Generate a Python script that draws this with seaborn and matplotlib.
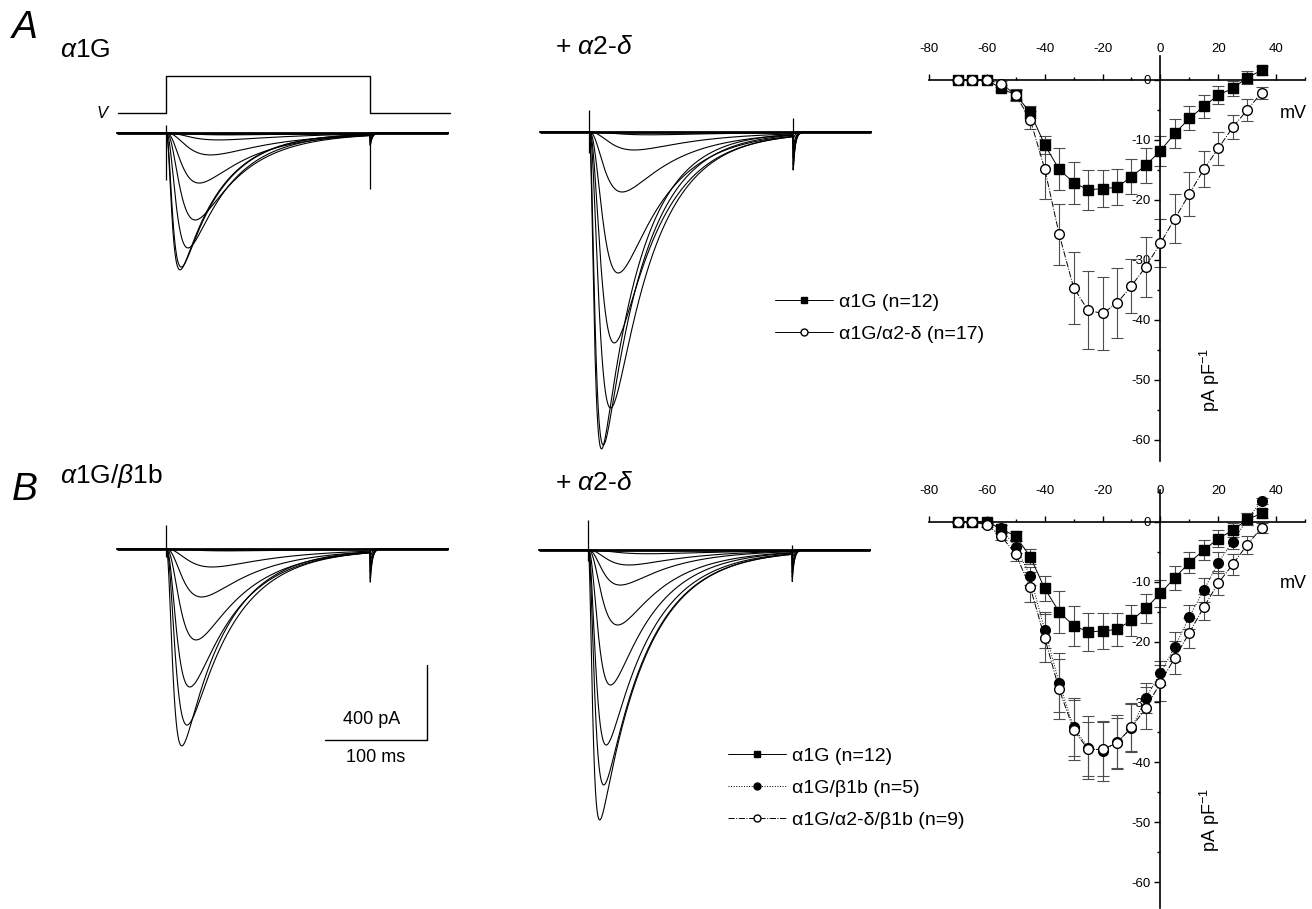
import numpy as np
import pandas as pd
import matplotlib.pyplot as plt
import seaborn as sns
from matplotlib.lines import Line2D
from matplotlib.ticker import MultipleLocator

sns.set_style('white')
plt.rcParams['font.family'] = ['Liberation Sans', 'DejaVu Sans']
plt.rcParams['mathtext.fontset'] = 'custom'
plt.rcParams['mathtext.rm'] = 'Liberation Sans'
plt.rcParams['mathtext.it'] = 'Liberation Sans:italic'
plt.rcParams['mathtext.bf'] = 'Liberation Sans:bold'
plt.rcParams['axes.unicode_minus'] = False
for key in ('text.color', 'axes.labelcolor', 'xtick.color', 'ytick.color'):
    plt.rcParams[key] = 'black'

# ---- I-V data (pA/pF) ----
iv_volt = [-70, -65, -60, -55, -50, -45, -40, -35, -30, -25, -20,
           -15, -10, -5, 0, 5, 10, 15, 20, 25, 30, 35]

iv_a_a1g = [0, 0, 0, -1.4, -2.5, -5.4, -10.8, -14.9, -17.1, -18.3, -18.1,
            -17.9, -16.1, -14.2, -11.8, -8.9, -6.4, -4.4, -2.5, -1.4, 0.4, 1.6]
iv_a_a1g_err = [0.2, 0.2, 0.2, 0.5, 0.8, 1.0, 1.5, 3.5, 3.5, 3.3, 3.1,
                3.0, 2.9, 2.9, 2.5, 2.4, 2.0, 1.9, 1.5, 1.2, 1.1, 0.8]
iv_a_a2d = [0, 0, 0, -0.6, -2.5, -6.6, -14.8, -25.7, -34.6, -38.4, -38.9,
            -37.2, -34.3, -31.1, -27.2, -23.1, -19.0, -14.9, -11.4, -7.9, -5.0, -2.1]
iv_a_a2d_err = [0.2, 0.2, 0.2, 0.5, 1.0, 1.5, 5.0, 5.1, 6.0, 6.5, 6.1,
                5.8, 4.5, 5.0, 4.0, 4.1, 3.7, 3.0, 2.7, 2.0, 1.9, 1.0]

iv_b_a1g = [0, 0, 0, -1.2, -2.4, -5.8, -11.1, -15.0, -17.3, -18.3, -18.2,
            -17.9, -16.4, -14.4, -11.9, -9.3, -6.8, -4.7, -2.8, -1.4, 0.4, 1.4]
iv_b_a1g_err = [0.2, 0.2, 0.2, 0.6, 0.8, 1.2, 2.0, 3.5, 3.3, 3.2, 3.0,
                2.8, 2.6, 2.4, 2.2, 2.0, 1.8, 1.6, 1.4, 1.2, 1.0, 0.8]
iv_b_b1b = [0, 0, 0, -1.1, -4.2, -9.0, -18.0, -26.8, -34.2, -37.6, -38.1,
            -36.7, -34.4, -29.3, -25.2, -20.8, -15.8, -11.4, -6.8, -3.3, 0.4, 3.5]
iv_b_b1b_err = [0.2, 0.2, 0.2, 0.5, 1.0, 1.5, 3.0, 4.9, 4.8, 5.2, 5.0,
                4.5, 4.0, 2.5, 2.0, 2.4, 2.0, 2.0, 1.8, 1.2, 1.0, 0.5]
iv_b_a2db1b = [0, 0, -0.5, -2.4, -5.4, -10.9, -19.3, -27.9, -34.6, -37.9, -37.9,
               -36.8, -34.2, -31.0, -26.8, -22.6, -18.5, -14.2, -10.2, -7.1, -3.8, -1.0]
iv_b_a2db1b_err = [0.2, 0.2, 0.3, 0.6, 1.2, 2.5, 4.0, 5.0, 5.0, 4.5, 4.5,
                   4.2, 4.0, 3.5, 3.0, 2.8, 2.5, 2.2, 2.0, 1.8, 1.5, 0.8]

# ---- current sweeps: peak (pA), activation / inactivation time constants (ms) ----
a1g_peak = [10, 37, 117, 267, 464, 613, 715, 730]
a1g_tau_m = [25, 22, 18, 12.5, 11, 7.5, 4.5, 4.0]
a1g_tau_h = [80, 70, 62, 52, 46, 42, 40, 40]

a1g_a2d_peak = [15, 96, 320, 752, 1125, 1472, 1669, 1690]
a1g_a2d_tau_m = [25, 18.5, 12.5, 11, 9, 7.3, 4.1, 3.5]
a1g_a2d_tau_h = [80, 62, 52, 46, 44, 42, 40, 38]

b1b_peak = [10, 96, 256, 485, 736, 939, 1050]
b1b_tau_m = [25, 18.5, 13.5, 11, 8, 6.8, 4.6]
b1b_tau_h = [80, 65, 55, 50, 47, 45, 43]

a2d_b1b_peak = [20, 80, 187, 400, 720, 1040, 1253, 1440]
a2d_b1b_tau_m = [25, 16, 12, 11, 7.5, 5.5, 4.5, 3.0]
a2d_b1b_tau_h = [80, 60, 52, 48, 45, 45, 45, 45]

# artefacts (pA): onset up / down, end-of-step tail / up / down
onset_up = [43, 117, 128, 160]
onset_down = [250, 110, 40, 60]
tail_pA = [75, 230, 200, 190]
offset_up = [0, 75, 0, 27]
offset_down = [300, 0, 0, 0]

step_ms = 200
v_t = [-47, 0, 0, step_ms, step_ms, 278]
v_level = [0, 0, 1, 1, 0, 0]

W, H = 1312, 909
PX_MS = 1.02          # 100 ms = 102 px
PX_PA = 75 / 400      # 400 pA = 75 px

fig = plt.figure(figsize=(W / 100, H / 100), dpi=100)


def px_axes(left, top, right, bottom):
    return fig.add_axes([left / W, 1 - bottom / H, (right - left) / W, (bottom - top) / H])


def ftext(x, y, s, **kw):
    fig.text(x / W, 1 - y / H, s, **kw)


t = np.arange(-48, 277, 0.25)


def sweep(amp, tm, th, tail):
    tt = np.clip(t, 0, step_ms)
    g = (1 - np.exp(-tt / tm)) ** 3 * np.exp(-tt / th)
    g[(t <= 0) | (t > step_ms)] = 0
    cur = -amp * g / g.max()
    cur += np.where(t > step_ms, -tail * np.exp(-(t - step_ms) / 2.0), 0)
    return cur


def trace_panel(box, x0, y0, peaks, tms, ths, k):
    left, top, right, bottom = box
    ax = px_axes(left, top, right, bottom)
    rows = []
    for i, (a, tm, th) in enumerate(zip(peaks, tms, ths)):
        cur = sweep(a, tm, th, tail_pA[k] * a / max(peaks))
        rows.append(pd.DataFrame({'t': t, 'I': cur, 'sweep': i}))
    df = pd.concat(rows)
    sns.lineplot(data=df, x='t', y='I', units='sweep', estimator=None,
                 color='k', lw=0.8, ax=ax, legend=False)
    ax.hlines(0, t[0], t[-1], color='k', lw=2.0)
    ax.vlines(0, -onset_down[k], onset_up[k], color='k', lw=0.9)
    ax.vlines(step_ms, -offset_down[k], offset_up[k], color='k', lw=0.9)
    ax.set_xlim((left - x0) / PX_MS, (right - x0) / PX_MS)
    ax.set_ylim(-(bottom - y0) / PX_PA, (y0 - top) / PX_PA)
    ax.axis('off')
    return ax


def iv_axes(box, ylim):
    left, top, right, bottom = box
    ax = px_axes(left, top, right, bottom)
    ax.set_xlim(-80, 50)
    ax.set_ylim(*ylim)
    ax.set_facecolor('none')
    ax.spines['top'].set_position(('data', 0))
    ax.spines['left'].set_position(('data', 0))
    ax.spines['bottom'].set_visible(False)
    ax.spines['right'].set_visible(False)
    for s in ('top', 'left'):
        ax.spines[s].set_linewidth(1.2)
        ax.spines[s].set_color('k')
    ax.xaxis.set_ticks_position('top')
    ax.yaxis.set_ticks_position('left')
    ax.set_xticks(range(-80, 41, 20))
    ax.xaxis.set_minor_locator(MultipleLocator(10))
    ax.set_yticks(range(-60, 1, 10))
    ax.yaxis.set_minor_locator(MultipleLocator(5))
    ax.tick_params(which='both', direction='out', width=1, colors='k', labelsize=9.5)
    ax.tick_params(which='major', length=4)
    ax.tick_params(which='minor', length=2.5)
    ax.tick_params(axis='x', pad=14)
    ax.tick_params(axis='y', pad=3)
    ax.set_xlabel('')
    ax.set_ylabel('')
    return ax


def iv_series(ax, y, err, marker, face, ls, ms):
    ax.errorbar(iv_volt, y, yerr=err, fmt='none', ecolor='0.3', elinewidth=0.8,
                capsize=4, capthick=0.8, zorder=2, clip_on=False)
    sns.lineplot(x=iv_volt, y=y, ax=ax, color='k', lw=0.7, linestyle=ls,
                 marker=marker, markersize=ms, markerfacecolor=face,
                 markeredgecolor='k', markeredgewidth=1, zorder=3, clip_on=False)


# ---- A: traces ----
ax = trace_panel((100, 65, 460, 300), 166, 133, a1g_peak, a1g_tau_m, a1g_tau_h, 0)
axv = px_axes(100, 70, 460, 120)
sns.lineplot(x=v_t, y=v_level, ax=axv, color='k', lw=1.0, sort=False,
             estimator=None, errorbar=None)
axv.set_xlim(ax.get_xlim())
axv.set_ylim(-7 / 37, 1 + 6 / 37)
axv.axis('off')
ftext(102, 113, 'V', fontsize=12, style='italic', ha='center', va='center')

trace_panel((530, 95, 880, 460), 589, 132, a1g_a2d_peak, a1g_a2d_tau_m, a1g_a2d_tau_h, 1)

# ---- B: traces ----
axb = trace_panel((100, 505, 460, 780), 166, 549, b1b_peak, b1b_tau_m, b1b_tau_h, 2)
trace_panel((530, 505, 880, 840), 588, 550, a2d_b1b_peak, a2d_b1b_tau_m, a2d_b1b_tau_h, 3)

# scale bar (400 pA, 100 ms)
axb.plot([156, 256, 256], [-1019, -1019, -619], color='k', lw=1.0)
axb.text(202, -912, '400 pA', fontsize=13, ha='center', va='center')
axb.text(206, -1112, '100 ms', fontsize=13, ha='center', va='center')

# ---- A: I-V ----
ivA = iv_axes((929, 56, 1305, 461), (-63.5, 4))
iv_series(ivA, iv_a_a1g, iv_a_a1g_err, 's', 'k', '-', 6.5)
iv_series(ivA, iv_a_a2d, iv_a_a2d_err, 'o', 'white', '-.', 7)

# ---- B: I-V ----
ivB = iv_axes((929, 490, 1305, 908), (-64.3, 5.3))
iv_series(ivB, iv_b_a1g, iv_b_a1g_err, 's', 'k', '-', 6.5)
iv_series(ivB, iv_b_b1b, iv_b_b1b_err, 'o', 'k', ':', 7)
iv_series(ivB, iv_b_a2db1b, iv_b_a2db1b_err, 'o', 'white', '-.', 7)

for y_mv, y_lab in ((113, 380), (583, 820)):
    ftext(1280, y_mv, 'mV', fontsize=13, va='center')
    ftext(1210, y_lab, r'pA pF$^{-1}$', fontsize=13, rotation=90, ha='center', va='center')

# legends
hA = [Line2D([], [], color='k', lw=0.7, marker='s', ms=5, mfc='k', mec='k'),
      Line2D([], [], color='k', lw=0.7, marker='o', ms=5, mfc='white', mec='k')]
fig.legend(hA, ['α1G (n=12)', 'α1G/α2-δ (n=17)'], loc='center left',
           bbox_to_anchor=(775 / W, 1 - 318 / H), frameon=False, fontsize=14,
           handlelength=3.0, handletextpad=0.3, labelspacing=0.75,
           borderpad=0, borderaxespad=0)

hB = [Line2D([], [], color='k', lw=0.7, marker='s', ms=5, mfc='k', mec='k'),
      Line2D([], [], color='k', lw=0.7, ls=':', marker='o', ms=5, mfc='k', mec='k'),
      Line2D([], [], color='k', lw=0.7, ls='-.', marker='o', ms=5, mfc='white', mec='k')]
fig.legend(hB, ['α1G (n=12)', 'α1G/β1b (n=5)', 'α1G/α2-δ/β1b (n=9)'], loc='center left',
           bbox_to_anchor=(728 / W, 1 - 788 / H), frameon=False, fontsize=14,
           handlelength=3.0, handletextpad=0.3, labelspacing=0.75,
           borderpad=0, borderaxespad=0)

# panel titles
ftext(12, 28, 'A', fontsize=28, style='italic', va='center')
ftext(60, 50, r'$\alpha$1G', fontsize=19, va='center')
ftext(555, 47, r'+ $\alpha$2-$\delta$', fontsize=19, va='center')
ftext(12, 490, 'B', fontsize=28, style='italic', va='center')
ftext(60, 476, r'$\alpha$1G/$\beta$1b', fontsize=19, va='center')
ftext(555, 483, r'+ $\alpha$2-$\delta$', fontsize=19, va='center')

plt.savefig('out.png', dpi=100)
